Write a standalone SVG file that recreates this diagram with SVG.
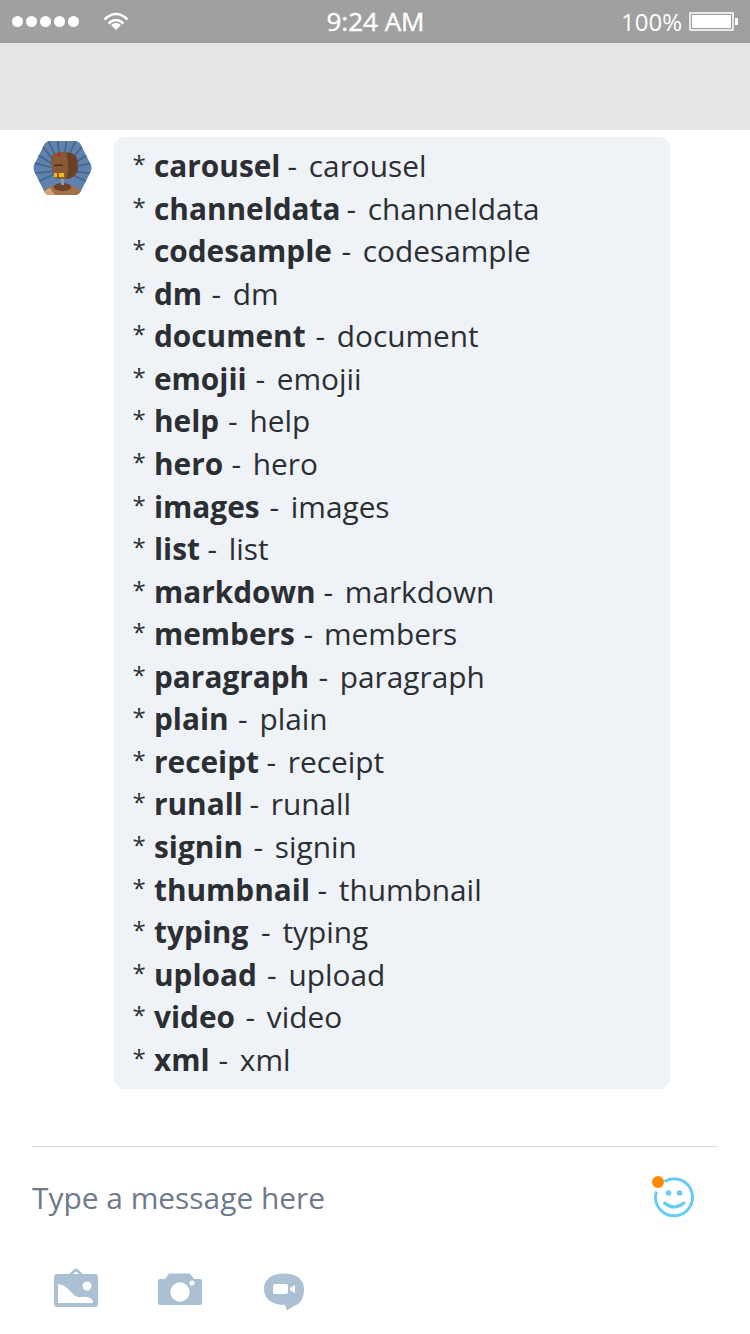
<svg xmlns="http://www.w3.org/2000/svg" width="750" height="1334" viewBox="0 0 750 1334">
<style>
text{font-family:"Open Sans","Noto Sans","Liberation Sans",sans-serif}
.m{font-size:29.8px;fill:#2b2e33}
.b{font-weight:700;font-size:29.800px}
.s{font-size:24px}
.st{fill:#fff}
</style>
<defs><clipPath id="hex"><path d="M50 141H75Q79 141 81 145L91 165Q92 168 91 171L81 191Q79 195 75 195H50Q46 195 44 191L34 171Q33 168 34 165L44 145Q46 141 50 141Z"/></clipPath></defs>
<rect width="750" height="1334" fill="#fff"/>
<rect width="750" height="43" fill="#a0a0a0"/>
<rect y="43" width="750" height="87" fill="#e5e5e5"/>
<g id="status-bar">
<g class="st"><circle cx="17.500" cy="21.500" r="5.500"/><circle cx="31.500" cy="21.500" r="5.500"/><circle cx="45.500" cy="21.500" r="5.500"/><circle cx="59.500" cy="21.500" r="5.500"/><circle cx="73.500" cy="21.500" r="5.500"/></g>
<g fill="none" stroke="#fff" stroke-width="2.500"><path d="M104.500 19.500Q116 8.500 127.500 19.500"/><path d="M108.500 23.500Q116 16.500 123.500 23.500"/></g>
<path d="M111 25Q116 21 121 25L116 30Z" fill="#fff"/>
<text x="375.500" y="30.500" text-anchor="middle" font-size="26" font-weight="500" fill="#fff" stroke="#fff" stroke-width="0.400">9:24 AM</text>
<text x="682" y="30.500" text-anchor="end" font-size="24" fill="#fff">100%</text>
<rect x="690" y="13" width="43" height="17" fill="none" stroke="#fff" stroke-width="1.500"/><rect x="692" y="15" width="39" height="13" fill="#fff"/><rect x="735" y="18" width="3" height="7" fill="#fff"/>
</g>
<g id="avatar">
<g clip-path="url(#hex)">
<rect x="30" y="138" width="66" height="60" fill="#5f82ad"/>
<g stroke="#44668f" stroke-width="1.800"><path d="M62 170L47 138M62 170L57 138M62 170L67 138M62 170L77 138M62 170L88 140M62 170L37 140M62 170L30 150M62 170L96 150M62 170L30 162M62 170L96 162M62 170L30 174M62 170L96 174M62 170L30 186M62 170L96 186"/></g>
<path d="M42 195Q46 187 56 185H69Q79 187 83 195Z" fill="#a5714a"/>
<path d="M42 195Q44 190 50 188L55 195Z" fill="#d9a27a"/>
<ellipse cx="62.500" cy="187" rx="9" ry="4" fill="#6d4326"/>
<rect x="61" y="179" width="3" height="6" fill="#8b9bb0"/>
<path d="M51 160Q51 153 59 152.500H68Q77 153 77.500 161L78 170Q76 177 68 179H58Q54 178 53 172Z" fill="#6a4125"/>
<path d="M51 160Q51 153 59 152.500H66Q68 158 68 165Q68 175 66 179H58Q54 178 53 172Z" fill="#8a5a36"/>
<rect x="54" y="164.500" width="9" height="1.500" fill="#4d2c18"/>
<rect x="54" y="173" width="10" height="4" fill="#e4c21e"/><rect x="57" y="173" width="2" height="4" fill="#c9412a"/>
<circle cx="59" cy="154.500" r="1.800" fill="#c4222a"/>
</g>
</g>
<g id="bubble">
<rect x="114" y="137" width="556" height="952" rx="10" fill="#eff2f7"/>
<g class="m" transform="translate(0,1)">
<text x="132.500" y="172" class="s">*</text><text x="154" y="176" class="b">carousel</text><text x="287.500" y="176">-</text><text x="308.800" y="176">carousel</text>
<text x="132.500" y="215" class="s">*</text><text x="154" y="219" class="b">channeldata</text><text x="346.500" y="219">-</text><text x="367.800" y="219">channeldata</text>
<text x="132.500" y="257" class="s">*</text><text x="154" y="261" class="b">codesample</text><text x="341.500" y="261">-</text><text x="362.800" y="261">codesample</text>
<text x="132.500" y="300" class="s">*</text><text x="154" y="304" class="b">dm</text><text x="211.500" y="304">-</text><text x="232.800" y="304">dm</text>
<text x="132.500" y="342" class="s">*</text><text x="154" y="346" class="b">document</text><text x="315.500" y="346">-</text><text x="336.800" y="346">document</text>
<text x="132.500" y="385" class="s">*</text><text x="154" y="389" class="b">emojii</text><text x="255.500" y="389">-</text><text x="276.800" y="389">emojii</text>
<text x="132.500" y="427" class="s">*</text><text x="154" y="431" class="b">help</text><text x="228" y="431">-</text><text x="249.500" y="431">help</text>
<text x="132.500" y="470" class="s">*</text><text x="154" y="474" class="b">hero</text><text x="231.500" y="474">-</text><text x="252.800" y="474">hero</text>
<text x="132.500" y="513" class="s">*</text><text x="154" y="517" class="b">images</text><text x="269.500" y="517">-</text><text x="290.800" y="517">images</text>
<text x="132.500" y="555" class="s">*</text><text x="154" y="559" class="b">list</text><text x="207.500" y="559">-</text><text x="228.800" y="559">list</text>
<text x="132.500" y="598" class="s">*</text><text x="154" y="602" class="b">markdown</text><text x="323.500" y="602">-</text><text x="344.800" y="602">markdown</text>
<text x="132.500" y="640" class="s">*</text><text x="154" y="644" class="b">members</text><text x="303.500" y="644">-</text><text x="324" y="644">members</text>
<text x="132.500" y="683" class="s">*</text><text x="154" y="687" class="b">paragraph</text><text x="318.500" y="687">-</text><text x="339.800" y="687">paragraph</text>
<text x="132.500" y="725" class="s">*</text><text x="154" y="729" class="b">plain</text><text x="238" y="729">-</text><text x="259.500" y="729">plain</text>
<text x="132.500" y="768" class="s">*</text><text x="154" y="772" class="b">receipt</text><text x="266.500" y="772">-</text><text x="287.800" y="772">receipt</text>
<text x="132.500" y="810" class="s">*</text><text x="154" y="814" class="b">runall</text><text x="249.500" y="814">-</text><text x="270.800" y="814">runall</text>
<text x="132.500" y="853" class="s">*</text><text x="154" y="857" class="b">signin</text><text x="253.500" y="857">-</text><text x="274.800" y="857">signin</text>
<text x="132.500" y="896" class="s">*</text><text x="154" y="900" class="b">thumbnail</text><text x="317.500" y="900">-</text><text x="338.800" y="900">thumbnail</text>
<text x="132.500" y="938" class="s">*</text><text x="154" y="942" class="b">typing</text><text x="261" y="942">-</text><text x="282.500" y="942">typing</text>
<text x="132.500" y="981" class="s">*</text><text x="154" y="985" class="b">upload</text><text x="267" y="985">-</text><text x="288.500" y="985">upload</text>
<text x="132.500" y="1023" class="s">*</text><text x="154" y="1027" class="b">video</text><text x="245.500" y="1027">-</text><text x="266.800" y="1027">video</text>
<text x="132.500" y="1066" class="s">*</text><text x="154" y="1070" class="b">xml</text><text x="218.500" y="1070">-</text><text x="239.800" y="1070">xml</text>
</g>
</g>
<g id="input">
<rect x="32" y="1146" width="686" height="1" fill="#d5dfe6"/>
<text x="32" y="1209" font-size="29.900" fill="#6c7a8c">Type a message here</text>
</g>
<g id="emoji">
<path d="M664.500 1181.500A18.500 18.500 0 1 1 656.500 1191.500" fill="none" stroke="#66ccf5" stroke-width="3"/>
<circle cx="668.500" cy="1193" r="2.800" fill="#66ccf5"/><circle cx="679.500" cy="1193" r="2.800" fill="#66ccf5"/>
<path d="M664.500 1203Q674 1211 684 1203" fill="none" stroke="#66ccf5" stroke-width="3" stroke-linecap="round"/>
<circle cx="658" cy="1182" r="6" fill="#ff8a00"/>
</g>
<g id="toolbar" fill="#acc0d3">
<path fill-rule="evenodd" d="M57 1274H69L74 1269.500Q76 1268 78 1269.500L83 1274H95Q98 1274 98 1277V1304Q98 1307 95 1307H57Q54 1307 54 1304V1277Q54 1274 57 1274ZM73 1274H79L76 1271.500ZM58 1284V1303H93V1301Q90 1296 82 1297Q76 1298 72 1293Q66 1285 58 1284ZM87 1281.500A4.500 4.500 0 1 0 87 1290.500A4.500 4.500 0 1 0 87 1281.500Z"/>
<path fill-rule="evenodd" d="M160 1279H165L169 1273.500H190L194 1279H200Q202 1279 202 1281V1303Q202 1305 200 1305H160Q158 1305 158 1303V1281Q158 1279 160 1279ZM180 1282.300A9.700 9.700 0 1 0 180 1301.700A9.700 9.700 0 1 0 180 1282.300ZM192 1280.500A2.500 2.500 0 1 0 192 1285.500A2.500 2.500 0 1 0 192 1280.500Z"/>
<path fill-rule="evenodd" d="M284 1273.500C296 1273.500 304 1279 304 1289C304 1299 300 1304 294 1306L287 1310.500L285 1305C272 1305 264 1299 264 1289C264 1279 272 1273.500 284 1273.500ZM275 1284Q273 1284 273 1286V1292Q273 1294 275 1294H286Q288 1294 288 1292V1286Q288 1284 286 1284ZM295 1285L290 1288V1290L295 1293Z"/>
</g>
</svg>
